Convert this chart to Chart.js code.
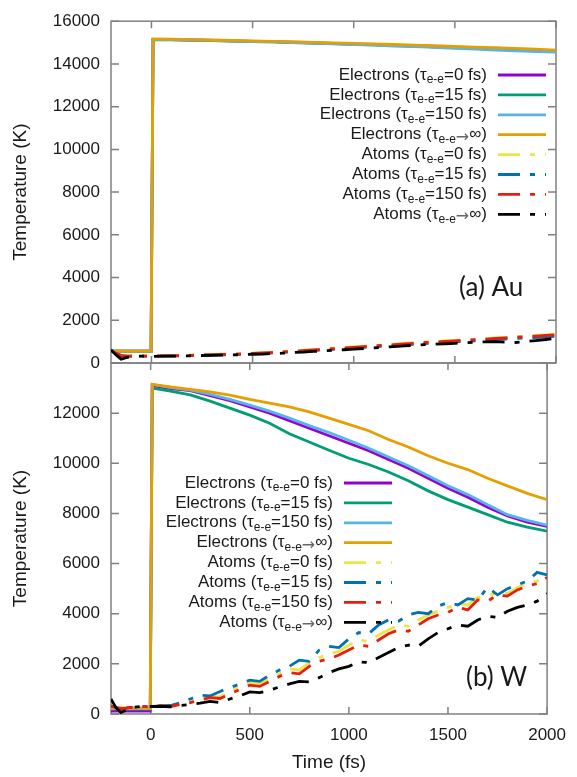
<!DOCTYPE html>
<html>
<head>
<meta charset="utf-8">
<script src="https://cdn.jsdelivr.net/npm/chart.js@4.4.1/dist/chart.umd.min.js"></script>
<style>
  body { margin: 0; background: #fff; }
  #wrap { position: relative; width: 577px; height: 777px; }
  canvas { position: absolute; left: 0; top: 0; }
</style>
</head>
<body>
<div id="wrap">
  <canvas id="auChart" width="577" height="777"></canvas>
  <canvas id="wChart" width="577" height="777"></canvas>
</div>
<script>
// time grids (fs)
const eTime = [-200, -100, -2, 8, 100, 200, 300, 400, 500, 600, 700, 800, 900, 1000,
    1100, 1200, 1300, 1400, 1500, 1600, 1700, 1800, 1900, 2000];
const aTime = [-200, -175, -150, -125, -100, -50,
    0, 50, 100, 150, 200, 250, 300, 350, 400, 450, 500, 550, 600, 650, 700, 750,
    800, 850, 900, 950, 1000, 1050, 1100, 1150, 1200, 1250, 1300, 1350, 1400, 1450,
    1500, 1550, 1600, 1650, 1700, 1750, 1800, 1850, 1900, 1950, 2000];
const xTickValues = [0, 500, 1000, 1500, 2000];

// (a) Au, electrons
const auElec0 = [550, 550, 550, 15150, 15140, 15120, 15100, 15080, 15060, 15040, 15010, 14990, 14960, 14930, 14900, 14870, 14840, 14800, 14770, 14730, 14690, 14650, 14620, 14580];
const auElec15 = [550, 550, 550, 15130, 15130, 15110, 15090, 15070, 15050, 15030, 15000, 14980, 14950, 14920, 14890, 14860, 14830, 14800, 14770, 14730, 14700, 14660, 14630, 14600];
const auElec150 = [550, 550, 550, 15150, 15140, 15120, 15100, 15070, 15050, 15030, 15000, 14970, 14940, 14910, 14880, 14840, 14810, 14770, 14730, 14690, 14650, 14610, 14580, 14550];
const auElecInf = [560, 560, 560, 15170, 15160, 15140, 15120, 15100, 15080, 15060, 15040, 15010, 14990, 14960, 14940, 14910, 14880, 14850, 14820, 14790, 14760, 14730, 14690, 14650];
// (a) Au, atoms
const auAtom0 = [560, 450, 350, 320, 320, 320,
    320, 330, 340, 360, 370, 390, 400, 410, 420, 440, 460, 480, 510, 530, 560, 600, 630, 660, 690, 720,
    760, 790, 820, 850, 880, 920, 950, 980, 1000, 1030, 1060, 1090, 1110, 1140, 1170, 1200, 1230, 1260, 1290, 1320, 1360];
const auAtom15 = [570, 460, 350, 320, 320, 320,
    320, 320, 330, 340, 350, 360, 370, 380, 400, 410, 430, 450, 470, 500, 520, 550, 580, 610, 640, 670,
    700, 730, 760, 790, 820, 850, 880, 910, 940, 960, 990, 1020, 1040, 1070, 1100, 1120, 1150, 1170, 1190, 1220, 1250];
const auAtom150 = [560, 450, 350, 320, 320, 320,
    320, 330, 330, 350, 360, 370, 390, 400, 410, 430, 450, 470, 490, 520, 540, 580, 610, 640, 670, 700,
    730, 770, 800, 830, 860, 890, 920, 960, 980, 1010, 1040, 1070, 1090, 1120, 1150, 1180, 1200, 1230, 1260, 1290, 1320];
const auAtomInf = [620, 380, 180, 250, 300, 320,
    310, 320, 320, 330, 340, 350, 360, 370, 380, 390, 410, 420, 440, 460, 490, 510, 540, 570, 590, 620,
    650, 680, 710, 740, 770, 800, 830, 860, 880, 900, 920, 950, 970, 990, 1000, 980, 960, 1000, 1050, 1100, 1150];

// (b) W, electrons
const wElec0 = [120, 120, 120, 13100, 12980, 12900, 12700, 12500, 12250, 12000, 11700, 11400, 11100, 10800, 10500, 10150, 9800, 9400, 9000, 8650, 8250, 7900, 7650, 7480];
const wElec15 = [200, 200, 200, 13000, 12880, 12730, 12480, 12200, 11920, 11600, 11180, 10850, 10520, 10200, 9950, 9650, 9300, 8900, 8550, 8250, 7950, 7650, 7450, 7290];
const wElec150 = [220, 220, 220, 13150, 13020, 12920, 12750, 12550, 12320, 12080, 11800, 11500, 11230, 10920, 10600, 10250, 9900, 9500, 9100, 8750, 8350, 7950, 7720, 7530];
const wElecInf = [240, 240, 240, 13150, 13050, 12950, 12850, 12720, 12550, 12400, 12250, 12050, 11800, 11550, 11300, 10950, 10650, 10300, 10000, 9750, 9400, 9100, 8800, 8550];
// (b) W, atoms
const wAtom0 = [300, 250, 200, 220, 250, 280,
    300, 310, 320, 400, 480, 600, 700, 680, 900, 1100, 1250, 1200, 1400, 1600, 1800, 1750, 2050, 2250, 2400, 2500,
    2750, 2950, 2900, 3150, 3350, 3550, 3500, 3750, 3950, 4100, 4250, 4400, 4350, 4650, 4700, 4850, 4800, 5050, 5200, 5300, 5500];
const wAtom15 = [320, 260, 200, 220, 260, 290,
    300, 320, 340, 450, 600, 750, 720, 900, 1050, 1200, 1350, 1300, 1550, 1750, 1900, 2150, 2100, 2550, 2700, 2650,
    3000, 3250, 3200, 3550, 3750, 3700, 3950, 4050, 4000, 4300, 4450, 4350, 4600, 4550, 5050, 4750, 5000, 5150, 5300, 5650, 5550];
const wAtom150 = [310, 250, 210, 230, 260, 290,
    300, 320, 300, 380, 450, 560, 650, 620, 800, 980, 1150, 1100, 1300, 1500, 1650, 1600, 1900, 2100, 2200, 2350,
    2550, 2750, 2700, 2950, 3200, 3350, 3300, 3550, 3800, 3950, 4050, 4250, 4150, 4550, 4500, 4750, 4700, 4950, 5100, 5200, 5450];
const wAtomInf = [600, 250, 60, 150, 260, 300,
    300, 310, 290, 340, 380, 430, 500, 460, 600, 720, 880, 850, 950, 1080, 1200, 1300, 1280, 1450, 1650, 1800,
    1900, 2080, 2050, 2250, 2450, 2650, 2750, 2700, 3000, 3250, 3400, 3550, 3500, 3750, 3900, 3850, 4100, 4250, 4350, 4500, 4800];

// legend pieces: [text, kind] where kind is 'm' (normal), 's' (subscript), 'a' (arrow)
const legendLabels = [
    [['Electrons (τ', 'm'], ['e-e', 's'], ['=0 fs)', 'm']],
    [['Electrons (τ', 'm'], ['e-e', 's'], ['=15 fs)', 'm']],
    [['Electrons (τ', 'm'], ['e-e', 's'], ['=150 fs)', 'm']],
    [['Electrons (τ', 'm'], ['e-e', 's'], ['→', 'a'], ['∞)', 'm']],
    [['Atoms (τ', 'm'], ['e-e', 's'], ['=0 fs)', 'm']],
    [['Atoms (τ', 'm'], ['e-e', 's'], ['=15 fs)', 'm']],
    [['Atoms (τ', 'm'], ['e-e', 's'], ['=150 fs)', 'm']],
    [['Atoms (τ', 'm'], ['e-e', 's'], ['→', 'a'], ['∞)', 'm']]
];
const seriesColors = ['#9400d3', '#009e73', '#56b4e9', '#e69f00', '#f0e442', '#0072b2', '#e51e10', '#000000'];
// draw order: black atoms on top, purple electrons at the bottom
const drawOrder = [7, 6, 5, 4, 3, 2, 1, 0];
const atomDash = [22, 10, 5, 10];

const FONT = '"Liberation Sans", Arial, sans-serif';
const pieceFont = { m: '17px ' + FONT, s: '12px ' + FONT, a: '16px "DejaVu Sans", sans-serif' };
const pieceShift = { m: 0, s: 5, a: 3 };
const pieceColor = { m: '#1a1a1a', s: '#1a1a1a', a: '#666' };

function pairs(xs, ys) {
    return xs.map((x, i) => ({ x: x, y: ys[i] }));
}

function buildDatasets(elec, atoms) {
    const out = [];
    elec.forEach((arr, i) => out.push({
        data: pairs(eTime, arr),
        borderColor: seriesColors[i],
        borderWidth: 2.8,
        order: drawOrder[i]
    }));
    atoms.forEach((arr, j) => out.push({
        data: pairs(aTime, arr),
        borderColor: seriesColors[j + 4],
        borderWidth: 2.8,
        borderDash: atomDash,
        order: drawOrder[j + 4]
    }));
    return out;
}

// gnuplot-like frame with inward ticks, plus subscripted legend and panel tag
const panelDecor = {
    id: 'panelDecor',
    beforeDatasetsDraw(chart) {
        const { ctx, chartArea: a, scales } = chart;
        ctx.save();
        ctx.strokeStyle = '#808080';
        ctx.lineWidth = 1.5;
        ctx.strokeRect(a.left, a.top, a.right - a.left, a.bottom - a.top);
        ctx.beginPath();
        scales.x.ticks.forEach(t => {
            const px = scales.x.getPixelForValue(t.value);
            ctx.moveTo(px, a.top); ctx.lineTo(px, a.top + 7);
            ctx.moveTo(px, a.bottom); ctx.lineTo(px, a.bottom - 7);
        });
        scales.y.ticks.forEach(t => {
            const py = scales.y.getPixelForValue(t.value);
            ctx.moveTo(a.left, py); ctx.lineTo(a.left + 8, py);
            ctx.moveTo(a.right, py); ctx.lineTo(a.right - 8, py);
        });
        ctx.stroke();
        ctx.restore();
    },
    afterDatasetsDraw(chart, args, opts) {
        const ctx = chart.ctx;
        ctx.save();
        ctx.textBaseline = 'middle';
        ctx.textAlign = 'left';
        chart.data.datasets.forEach((ds, i) => {
            const y = opts.legendY + i * opts.rowH;
            const parts = legendLabels[i];
            const widths = parts.map(([txt, k]) => {
                ctx.font = pieceFont[k];
                return ctx.measureText(txt).width;
            });
            let x = opts.legendX - widths.reduce((s, w) => s + w, 0);
            parts.forEach(([txt, k], j) => {
                ctx.font = pieceFont[k];
                ctx.fillStyle = pieceColor[k];
                ctx.fillText(txt, x, y + pieceShift[k]);
                x += widths[j];
            });

            ctx.strokeStyle = ds.borderColor;
            ctx.lineWidth = 2.8;
            ctx.setLineDash(ds.borderDash || []);
            ctx.beginPath();
            ctx.moveTo(opts.legendX + 11, y);
            ctx.lineTo(opts.legendX + 59, y);
            ctx.stroke();
            ctx.setLineDash([]);
        });
        ctx.fillStyle = '#1a1a1a';
        ctx.font = '26px Lato, "Open Sans", sans-serif';
        ctx.fillText(opts.tag, opts.tagX, opts.tagY);
        ctx.restore();
    }
};

function makePanel(id, datasets, yMax, padTop, padBottom, showX, decor) {
    return new Chart(document.getElementById(id), {
        type: 'line',
        data: { datasets: datasets },
        plugins: [panelDecor],
        options: {
            responsive: false,
            animation: false,
            events: [],
            layout: { padding: { top: padTop, right: 21, bottom: padBottom, left: 0 } },
            elements: { point: { radius: 0 }, line: { tension: 0 } },
            plugins: {
                legend: { display: false },
                tooltip: { enabled: false },
                panelDecor: decor
            },
            scales: {
                x: {
                    type: 'linear',
                    min: -200,
                    max: 2000,
                    afterBuildTicks: s => { s.ticks = xTickValues.map(v => ({ value: v })); },
                    afterFit: s => { s.height = showX ? 63 : 0; },
                    grid: { display: false, drawTicks: false },
                    border: { display: false },
                    ticks: {
                        display: showX,
                        autoSkip: false,
                        maxRotation: 0,
                        padding: 11,
                        color: '#1a1a1a',
                        font: { family: FONT, size: 17 },
                        callback: v => String(v)
                    },
                    title: {
                        display: showX,
                        text: 'Time (fs)',
                        color: '#1a1a1a',
                        font: { family: FONT, size: 19 },
                        padding: { top: 4, bottom: 3 }
                    }
                },
                y: {
                    min: 0,
                    max: yMax,
                    afterBuildTicks: s => {
                        const t = [];
                        for (let v = 0; v <= yMax; v += 2000) t.push({ value: v });
                        s.ticks = t;
                    },
                    afterFit: s => { s.width = 111; },
                    grid: { display: false, drawTicks: false },
                    border: { display: false },
                    ticks: {
                        autoSkip: false,
                        padding: 11,
                        color: '#1a1a1a',
                        font: { family: FONT, size: 17 },
                        callback: v => (v === 14000 && yMax === 14000 ? '' : String(v))
                    },
                    title: {
                        display: true,
                        text: 'Temperature (K)',
                        color: '#1a1a1a',
                        font: { family: FONT, size: 19 },
                        padding: { top: 9, bottom: 0 }
                    }
                }
            }
        }
    });
}

makePanel('auChart',
    buildDatasets([auElec0, auElec15, auElec150, auElecInf], [auAtom0, auAtom15, auAtom150, auAtomInf]),
    16000, 13, 777 - 363, false,
    { legendX: 487, legendY: 75, rowH: 19.9, tag: '(a) Au', tagX: 459, tagY: 288 });

makePanel('wChart',
    buildDatasets([wElec0, wElec15, wElec150, wElecInf], [wAtom0, wAtom15, wAtom150, wAtomInf]),
    14000, 363, 0, true,
    { legendX: 333, legendY: 483, rowH: 19.9, tag: '(b) W', tagX: 466, tagY: 678 });
</script>
</body>
</html>
